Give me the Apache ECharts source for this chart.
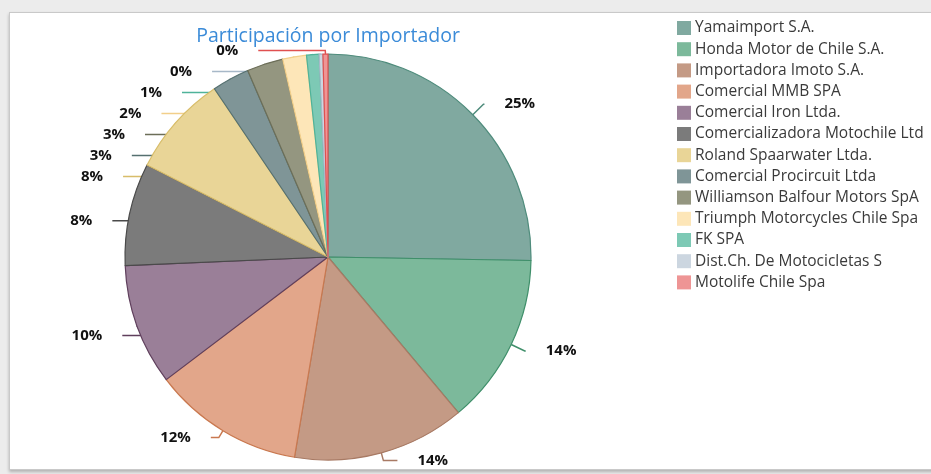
<!DOCTYPE html>
<html>
<head>
<meta charset="utf-8">
<script src="https://cdn.jsdelivr.net/npm/echarts@6/dist/echarts.min.js"></script>
<style>
  html, body { margin: 0; padding: 0; background: #ececec; }
  .frame {
    position: absolute; left: 9px; top: 12px; width: 930px; height: 456px;
    background: #fff; border: 1px solid #c9c9c9;
    box-shadow: 0 2px 3px rgba(0,0,0,0.25);
  }
  #pie { position: absolute; left: 0; top: 0; width: 931px; height: 474px; }
</style>
</head>
<body>
<div class="frame"></div>
<div id="pie"></div>
<script>
  // importadores y su participación
  const importadores = [
    'Yamaimport S.A.',
    'Honda Motor de Chile S.A.',
    'Importadora Imoto S.A.',
    'Comercial MMB SPA',
    'Comercial Iron Ltda.',
    'Comercializadora Motochile Ltd',
    'Roland Spaarwater Ltda.',
    'Comercial Procircuit Ltda',
    'Williamson Balfour Motors SpA',
    'Triumph Motorcycles Chile Spa',
    'FK SPA',
    'Dist.Ch. De Motocicletas S',
    'Motolife Chile Spa'
  ];
  const participacion = [25.4, 13.7, 13.8, 12.1, 9.7, 8.2, 8.1, 3.0, 2.9, 1.9, 1.0, 0.3, 0.4];

  // estilos
  const colores = ['#80a9a0', '#7cb99b', '#c49a85', '#e2a68a', '#9a7f98', '#7b7b7b', '#e9d597',
                   '#7f9597', '#949680', '#fde6b8', '#7dc9b5', '#ccd6e0', '#ee9595'];
  const bordes = ['#4f8c7c', '#3f8f6a', '#a87a64', '#c9784f', '#5f3f5c', '#4a4a4a', '#d8bd6a',
                  '#557070', '#6c6e58', '#f2cf8a', '#4fb39a', '#a7b8c8', '#e05050'];
  // tramos de la guía de cada etiqueta
  const guia1 = [15, 15, 8, 8, 15, 15, 15, 15, 15, 15, 15, 15, 15];
  const guia2 = [1, 1, 14, 8, 21, 21, 24, 26, 27, 29, 33, 38, 67];

  const myChart = echarts.init(document.getElementById('pie'));
  const option = {
    title: {
      text: 'Participación por Importador',
      left: 323,
      textAlign: 'center',
      top: 21,
      textStyle: { color: '#3b8bd8', fontSize: 19.5, fontWeight: 'normal', fontFamily: 'Open Sans' }
    },
    legend: {
      orient: 'vertical',
      left: 672,
      top: 15,
      itemWidth: 14,
      itemHeight: 14,
      itemGap: 5.2,
      icon: 'rect',
      itemStyle: { borderWidth: 0 },
      data: importadores,
      textStyle: { color: '#3a3a3a', fontSize: 15.5, lineHeight: 16, fontFamily: 'Open Sans', padding: [0, 0, 0, -1] }
    },
    series: [
      {
        type: 'pie',
        // caja de la serie: las etiquetas no suben por encima de top
        top: 40,
        bottom: -40,
        center: [328, 217],
        radius: 203,
        startAngle: 90,
        clockwise: true,
        data: importadores.map((n, i) => ({
          name: n,
          value: participacion[i],
          itemStyle: { color: colores[i], borderColor: bordes[i], borderWidth: 1.2 },
          labelLine: { length: guia1[i], length2: guia2[i], lineStyle: { color: bordes[i] } }
        })),
        label: {
          show: true,
          position: 'outside',
          formatter: p => Math.round(p.percent) + '%',
          color: '#111',
          fontWeight: 'bold',
          fontSize: 15,
          lineHeight: 19,
          fontFamily: 'Open Sans',
          distanceToLabelLine: 20
        },
        labelLine: { show: true, minTurnAngle: 0, maxSurfaceAngle: 180, lineStyle: { width: 1.5 } },
        emphasis: { disabled: true },
        animation: false
      }
    ]
  };
  myChart.setOption(option);
</script>
</body>
</html>
